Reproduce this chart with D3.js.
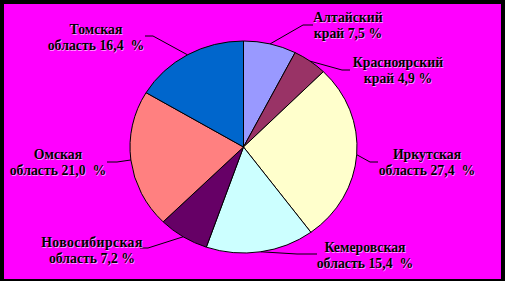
<!DOCTYPE html>
<html>
<head>
<meta charset="utf-8">
<script src="https://cdn.jsdelivr.net/npm/d3@7.9.0/dist/d3.min.js"></script>
<style>
  html, body { margin: 0; padding: 0; background: #000; }
  svg { display: block; }
</style>
</head>
<body>
<svg id="chart" width="505" height="281"></svg>
<script>
// data, clockwise from 12 o'clock
const regions = ["Алтайский край", "Красноярский край", "Иркутская область", "Кемеровская область",
                 "Новосибирская область", "Омская область", "Томская область"];
const shares = [7.5, 4.9, 27.4, 15.4, 7.2, 21.0, 16.4];
const labelLine1 = ["Алтайский", "Красноярский", "Иркутская", "Кемеровская", "Новосибирская", "Омская", "Томская"];
const labelLine2 = ["край 7,5 %", "край 4,9 %", "область 27,4  %", "область 15,4  %", "область 7,2 %", "область 21,0  %", "область 16,4  %"];
const sliceColors = ["#9999FF", "#993366", "#FFFFCC", "#CCFFFF", "#660066", "#FF8080", "#0066CC"];

// label layout: elbow of the leader line, end of its short flat part, text centre
const labelLayout = [
  { ex: 303, ey: 25, hx: 313, tx: 348, ty: 17 },
  { ex: 342, ey: 70, hx: 350, tx: 398, ty: 62 },
  { ex: 370, ey: 162, hx: 378, tx: 427, ty: 154 },
  { ex: 297, ey: 254, hx: 317, tx: 365, ty: 247 },
  { ex: 148, ey: 248, hx: 140, tx: 92, ty: 242 },
  { ex: 117, ey: 162, hx: 107, tx: 58, ty: 154 },
  { ex: 153, ey: 36, hx: 145, tx: 96, ty: 29 }
];

const svg = d3.select("#chart");
const W = 505, H = 281;

// frame
svg.append("rect").attr("width", W).attr("height", H).attr("fill", "#000");
svg.append("rect").attr("x", 4).attr("y", 4).attr("width", 497).attr("height", 275).attr("fill", "#FF00FF");

const cx = 243.5, cy = 147, rx = 113.5, ry = 106;

const pie = d3.pie().sort(null).value(d => d);
const arcs = pie(shares);
const arc = d3.arc().innerRadius(0).outerRadius(ry);

const g = svg.append("g")
  .attr("transform", `translate(${cx},${cy}) scale(${rx / ry},1)`);

g.selectAll("path.slice")
  .data(arcs)
  .enter()
  .append("path")
  .attr("class", "slice")
  .attr("d", arc)
  .attr("fill", (d, i) => sliceColors[i])
  .attr("stroke", "#000")
  .attr("stroke-width", 1)
  .attr("vector-effect", "non-scaling-stroke");

// leader lines from the middle of each slice's rim
const leaders = svg.append("g");
arcs.forEach((d, i) => {
  const a = (d.startAngle + d.endAngle) / 2;
  const px = cx + rx * Math.sin(a);
  const py = cy - ry * Math.cos(a);
  const L = labelLayout[i];
  leaders.append("polyline")
    .attr("points", `${px},${py} ${L.ex},${L.ey} ${L.hx},${L.ey}`)
    .attr("fill", "none")
    .attr("stroke", "#000")
    .attr("stroke-width", 1);
});

// labels: black bold serif with a light emboss
const labels = svg.append("g")
  .attr("font-family", "'Liberation Serif', 'Times New Roman', serif")
  .attr("font-weight", "bold")
  .attr("font-size", 13.8)
  .attr("text-anchor", "middle");

regions.forEach((r, i) => {
  const L = labelLayout[i];
  const lines = [labelLine1[i], labelLine2[i]];
  lines.forEach((t, k) => {
    const y = L.ty + k * 16.5 + 4.8;
    const spacing = i === 4 && k === 0 ? "0.4px" : "0px";
    labels.append("text")
      .attr("x", L.tx + 0.8).attr("y", y + 0.8)
      .attr("fill", "#ffffff").attr("fill-opacity", 0.6)
      .attr("letter-spacing", spacing)
      .style("white-space", "pre")
      .text(t);
    labels.append("text")
      .attr("x", L.tx).attr("y", y)
      .attr("fill", "#000")
      .attr("letter-spacing", spacing)
      .style("white-space", "pre")
      .text(t);
  });
});
</script>
</body>
</html>
